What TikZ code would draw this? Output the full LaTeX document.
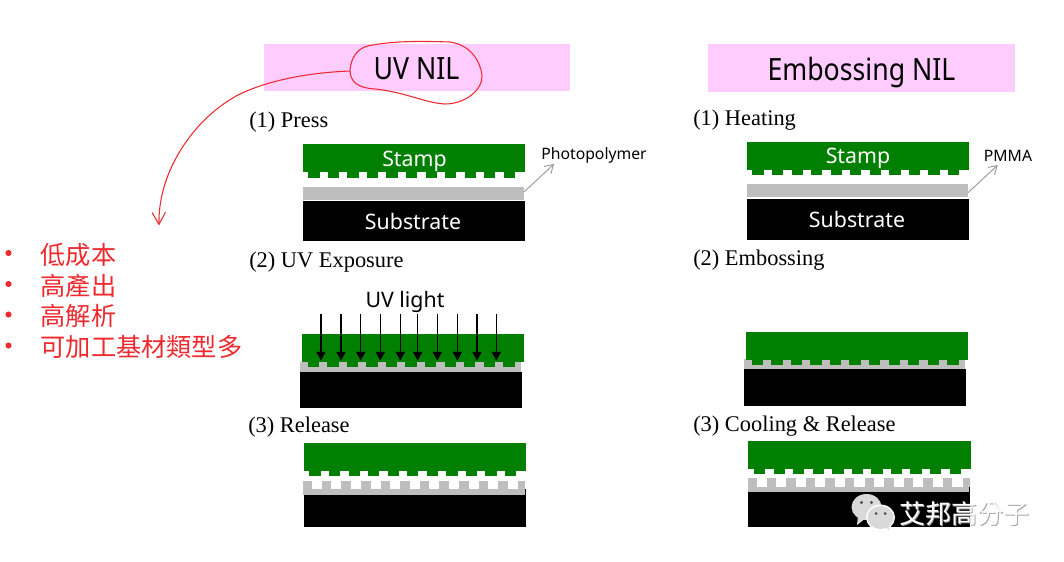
\documentclass[tikz,border=0pt]{standalone}
\usepackage{fontspec}
\setmainfont{Liberation Serif}
\newfontfamily\tah{Noto Sans}
\newfontfamily\tahn[FakeStretch=0.87]{Noto Sans}
\newfontfamily\cjk{Noto Sans CJK TC}
\usetikzlibrary{arrows.meta}
\definecolor{stampgreen}{HTML}{007F00}
\definecolor{polygray}{HTML}{BEBEBE}
\definecolor{titlepink}{HTML}{FFCCFF}
\definecolor{markred}{HTML}{EE2A2F}
\newcommand{\fpx}[1]{\fontsize{#1}{#1}\selectfont}
\newcommand{\stampshape}[2]{%
  \fill[stampgreen] (#1,#2) rectangle ++(222.3,28);
  \foreach \i in {0,...,10}{\fill[stampgreen] ({#1+5.7+19.55*\i},{#2+27.5}) rectangle ++(11.3,6);}}
\newcommand{\toothedpoly}[4]{% x, tooth top, base top, bottom
  \fill[polygray] (#1,#3) rectangle ({#1+221.7},#4);
  \fill[polygray] (#1,#2) rectangle ({#1+8.5},#3);
  \fill[polygray] ({#1+214.5},#2) rectangle ({#1+221.7},#3);
  \foreach \i in {0,...,9}{\fill[polygray] ({#1+18.5+19.6*\i},#2) rectangle ++(9.5,{#3-#2});}}
\tikzset{
  title/.style={font=\tahn\fpx{23},text=black,anchor=base,inner sep=0pt},
  steplabel/.style={font=\fpx{16.8},anchor=base west,inner sep=0pt,text=black},
  insidetext/.style={font=\tah\fpx{16},text=white,inner sep=0pt,anchor=base},
  sidelabel/.style={font=\tah\fpx{11.8},text=black,inner sep=0pt,anchor=base},
  leader/.style={draw=gray!80,line width=0.7pt,-{Straight Barb[length=6pt,width=7.5pt]}},
  uvarrow/.style={draw=black,line width=0.85pt,-{Triangle[length=6.5pt,width=7pt]}},
  redpen/.style={draw=markred,line width=0.8pt},
  redtext/.style={font=\cjk\fpx{18.9},text=markred,anchor=west,inner sep=0pt},
  redbullet/.style={circle,fill=markred,inner sep=0pt,minimum size=4.6pt},
}
\begin{document}
\begin{tikzpicture}[x=0.75pt,y=-0.75pt]
\useasboundingbox (0,0) rectangle (1064,561);
% titles
\fill[titlepink] (264,44) rectangle (570,90.7);
\fill[titlepink] (708,44) rectangle (1015,92);
\node[title] (uvnil) at (416.5,79.5) {UV NIL};
\node[title] (embnil) at (861.5,80) {Embossing NIL};
% red hand markings
\draw[redpen,line join=round] (350,70) .. controls (352,52) and (362,46) .. (373,45)
  .. controls (395,41) and (420,41) .. (450,42) .. controls (470,45) and (480,60) .. (482,75)
  .. controls (483,90) and (465,104) .. (445,104) .. controls (425,103) and (405,92) .. (375,89)
  .. controls (358,88) and (350,82) .. (350,70) -- cycle;
\coordinate (tailstart) at (350,71);
\coordinate (tailend) at (159,225.5);
\draw[redpen,-{Straight Barb[length=9pt,width=10pt]}] (tailstart) .. controls (300,73) and (262,83) .. (238,95)
  .. controls (195,118) and (158,170) .. (tailend);
% bullet list
\foreach \yy/\tx [count=\n] in {254.5/低成本,285.5/高產出,316/高解析,347/可加工基材類型多}{
  \node[redbullet] (b\n) at (8.5,\yy-1.5) {};
  \node[redtext] (t\n) at (40.5,\yy) {\tx};
}
% ---- left column
\node[steplabel] (l1) at (249,127) {(1) Press};
\stampshape{302.5}{144}
\fill[polygray] (303,187) rectangle (524,200);
\fill[black] (302.5,201) rectangle (525,240.5);
\node[insidetext] (s1) at (414.5,166) {Stamp};
\node[insidetext] (sub1) at (413,229.5) {Substrate};
\node[sidelabel] (photo) at (594,159.5) {Photopolymer};
\coordinate (polyL) at (524,192);
\coordinate (tipL) at (554,164);
\draw[leader] (polyL) -- (tipL);

\node[steplabel] (l2) at (249,267) {(2) UV Exposure};
\node[font=\tah\fpx{16},inner sep=0pt,anchor=base] (uv) at (405,307.5) {UV light};
\fill[polygray] (300,361.5) rectangle (521,371.7);
\stampshape{302}{333.5}
\fill[black] (300,371.7) rectangle (522,407.7);
\foreach \xx [count=\n] in {321,341,360.7,380.3,400.3,417.7,437.3,457.3,477,496.3}{
  \coordinate (ua\n) at (\xx,314);
  \coordinate (ub\n) at (\xx,360.5);
  \draw[uvarrow] (ua\n) -- (ub\n);
}

\node[steplabel] (l3) at (248,432) {(3) Release};
\stampshape{303.7}{442.7}
\toothedpoly{303.3}{480.7}{489}{494.5}
\fill[black] (303.5,494.5) rectangle (526,527.3);
\fill[black] (525,489) rectangle (526,494.5);

% ---- right column
\node[steplabel] (r1) at (693,125) {(1) Heating};
\stampshape{746.7}{141.7}
\fill[polygray] (747,184) rectangle (968,197);
\fill[black] (746.7,199) rectangle (969,240.3);
\node[insidetext] (s2) at (858,163) {Stamp};
\node[insidetext] (sub2) at (857,227) {Substrate};
\node[sidelabel] (pmma) at (1008,161) {PMMA};
\coordinate (polyR) at (968,192.7);
\coordinate (tipR) at (997.7,165);
\draw[leader] (polyR) -- (tipR);

\node[steplabel] (r2) at (693,265) {(2) Embossing};
\fill[polygray] (744,359.3) rectangle (965,369.3);
\stampshape{746}{331.7}
\fill[black] (744,369.3) rectangle (966,405.7);

\node[steplabel] (r3) at (693,431) {(3) Cooling \& Release};
\stampshape{748.3}{440.7}
\toothedpoly{748}{477.7}{486.7}{491.7}
\fill[black] (748,491.7) rectangle (970,527.3);
\fill[black] (969,486.7) rectangle (970,491.7);

% ---- watermark
\fill[gray!30] (866.5,507) ellipse (15 and 13);
\fill[gray!30] (858,516) -- (857,525) -- (866,518) -- cycle;
\fill[white] (880.5,517.5) ellipse (14.5 and 13);
\fill[gray!30] (880.5,517.5) ellipse (13 and 11.5);
\fill[gray!30] (884,526) -- (889,530) -- (889,524) -- cycle;
\fill[black!70] (861.5,502.5) circle (1.6);
\fill[black!70] (871.5,502.5) circle (1.6);
\fill[black!70] (876,513.5) circle (1.5);
\fill[black!70] (885,513.5) circle (1.5);
\node[font=\cjk\fpx{19.5},text=gray!70,inner sep=0pt] (wmshadow) at (965,514.6) {艾邦高分子};
\node[font=\cjk\fpx{19.5},text=white,inner sep=0pt] (wm) at (964.5,514) {艾邦高分子};
\end{tikzpicture}
\end{document}
